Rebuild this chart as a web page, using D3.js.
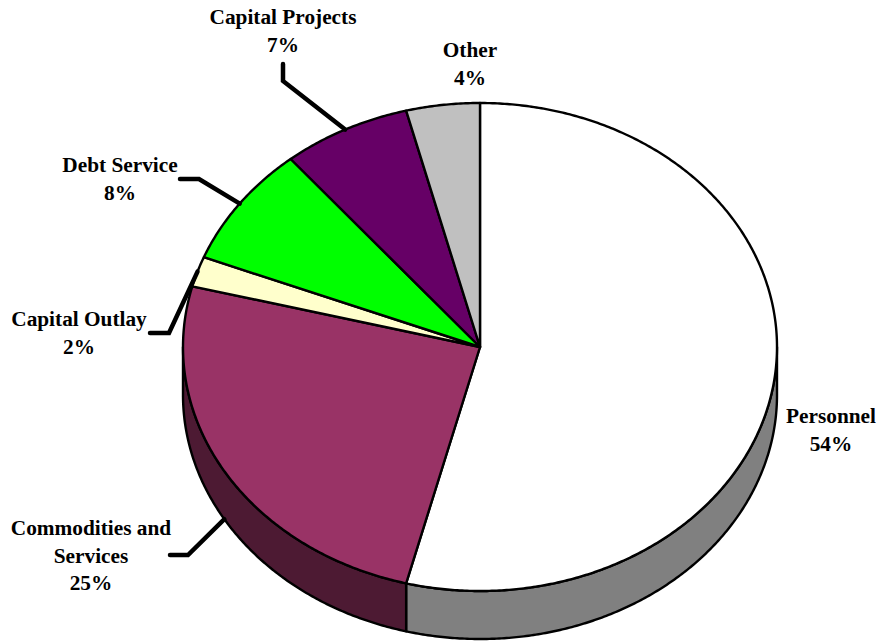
<!DOCTYPE html>
<html>
<head>
<meta charset="utf-8">
<script src="https://cdn.jsdelivr.net/npm/d3@7/dist/d3.min.js"></script>
<style>
  html, body { margin: 0; padding: 0; background: #fff; }
  text { font-family: "Liberation Serif", serif; font-weight: bold; font-size: 21.3px; fill: #000; text-anchor: middle; }
</style>
</head>
<body>
<svg id="chart" width="882" height="641"></svg>
<script>
// Budget shares, clockwise from twelve o'clock
const categories = ["Personnel", "Commodities and Services", "Capital Outlay", "Debt Service", "Capital Projects", "Other"];
const shares = [54, 25, 2, 8, 7, 4];
const topColors = ["#ffffff", "#993366", "#ffffcc", "#00ff00", "#660066", "#c0c0c0"];
const wallColors = ["#808080", "#4d1a33", "#808080", "#808080", "#808080", "#808080"];

// Wrapped label text, one row per line
const labelLines = [
  ["Personnel"], ["Commodities and", "Services"], ["Capital Outlay"],
  ["Debt Service"], ["Capital Projects"], ["Other"]
];
const labelCenters = [[831, 423], [91, 535], [79, 326], [120, 172], [283, 24], [470, 57]];
const labelLineGap = 27.5;

// Leader bends: tail end and elbow; slices without one have null
const leaderTails = [null, [170, 555], [150, 333], [180, 179], [283, 64], null];
const leaderElbows = [null, [188, 555], [169, 333], [199, 179], [283, 81], null];

const cx = 480, cy = 347, rx = 297, ry = 244, depth = 48;
const svg = d3.select("#chart");

// Unit-circle coordinates are mapped onto the tilted ellipse
const x = d3.scaleLinear().domain([-1, 1]).range([cx - rx, cx + rx]);
const y = d3.scaleLinear().domain([-1, 1]).range([cy - ry, cy + ry]);
const rimX = a => x(Math.sin(a));
const rimY = a => y(-Math.cos(a));

const pie = d3.pie().sort(null).startAngle(0).endAngle(2 * Math.PI);
const slices = pie(shares).map((d, i) => ({ ...d, i }));
const line = d3.line();

function rimPoints(a0, a1, dy) {
  const n = Math.max(2, Math.ceil(Math.abs(a1 - a0) * 120));
  return d3.range(n + 1).map(k => {
    const a = a0 + (a1 - a0) * k / n;
    return [rimX(a), rimY(a) + dy];
  });
}

// Side wall: only the near half of the rim (90 to 270 degrees) is visible
const nearStart = Math.PI / 2, nearEnd = 3 * Math.PI / 2;
svg.append("g").selectAll("path")
  .data(slices.filter(d => d.endAngle > nearStart && d.startAngle < nearEnd))
  .join("path")
  .attr("d", d => {
    const a0 = Math.max(d.startAngle, nearStart), a1 = Math.min(d.endAngle, nearEnd);
    return line([...rimPoints(a0, a1, 0), ...rimPoints(a1, a0, depth)]) + "Z";
  })
  .attr("fill", d => wallColors[d.i])
  .attr("stroke", "#000")
  .attr("stroke-width", 2.4)
  .attr("stroke-linejoin", "round");

// Top face
svg.append("g").selectAll("path")
  .data(slices)
  .join("path")
  .attr("d", d => line([[x(0), y(0)], ...rimPoints(d.startAngle, d.endAngle, 0)]) + "Z")
  .attr("fill", d => topColors[d.i])
  .attr("stroke", "#000")
  .attr("stroke-width", 2.4)
  .attr("stroke-linejoin", "round");

// Leaders run from the label to the rim at each slice's mid angle
svg.append("g").selectAll("path")
  .data(slices.filter(d => leaderTails[d.i]))
  .join("path")
  .attr("d", d => {
    const mid = (d.startAngle + d.endAngle) / 2;
    const front = Math.cos(mid) < 0 && d.i === 1;
    return line([leaderTails[d.i], leaderElbows[d.i], [rimX(mid), rimY(mid) + (front ? depth : 0)]]);
  })
  .attr("fill", "none")
  .attr("stroke", "#000")
  .attr("stroke-width", 4.5)
  .attr("stroke-linecap", "round")
  .attr("stroke-linejoin", "miter");

// Labels: category name, then the share
const labels = svg.append("g").selectAll("text")
  .data(slices)
  .join("text")
  .attr("transform", d => `translate(${labelCenters[d.i][0]},${labelCenters[d.i][1]})`);
labels.selectAll("tspan")
  .data(d => [...labelLines[d.i], d.value + "%"])
  .join("tspan")
  .attr("x", 0)
  .attr("y", (d, k) => k * labelLineGap)
  .text(d => d);
</script>
</body>
</html>
